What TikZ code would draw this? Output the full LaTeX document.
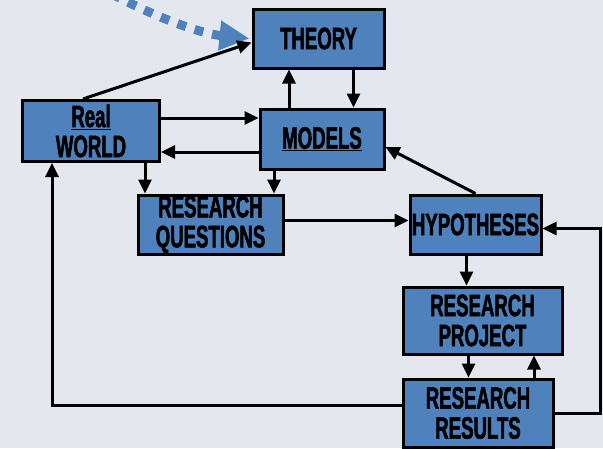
\documentclass[tikz,border=0pt]{standalone}
\usepackage{fontspec}
\newfontfamily\boxfont{Liberation Sans}[FakeStretch=0.6, BoldFeatures={FakeBold=1.6}]
\usetikzlibrary{arrows.meta, positioning}
\definecolor{boxblue}{RGB}{79,129,189}
\definecolor{backgray}{RGB}{228,232,238}
\tikzstyle{stepbox} = [rectangle, draw=black, line width=3pt, fill=boxblue, align=center, inner sep=0pt, font=\boxfont\bfseries\fontsize{31}{30}\selectfont]
\tikzstyle{arrow} = [line width=3pt, -{Triangle[length=14pt, width=13pt]}]
\tikzstyle{dotarrow} = [line width=9pt, boxblue, dash pattern=on 9pt off 9pt, -{Triangle[length=30pt, width=28pt]}]

\begin{document}
\begin{tikzpicture}[x=1pt, y=-1pt]

    \fill[backgray] (0,0) rectangle (603,448);
    \useasboundingbox (0,0) rectangle (603,448);

    \node (theory) [stepbox, minimum width=131pt, minimum height=59pt] at (318.5,38.5) {THEORY};
    \node (real) [stepbox, minimum width=137pt, minimum height=61pt] at (91,131) {\underline{Real}\\WORLD};
    \node (models) [stepbox, minimum width=124pt, minimum height=60pt] at (322,139) {\underline{MODELS}};
    \node (questions) [stepbox, minimum width=145pt, minimum height=59pt] at (210.5,224.5) {RESEARCH\\QUESTIONS};
    \node (hypo) [stepbox, minimum width=131pt, minimum height=59pt] at (475.5,224.5) {HYPOTHESES};
    \node (project) [stepbox, minimum width=159pt, minimum height=67pt] at (482.5,320.5) {RESEARCH\\PROJECT};
    \node (results) [stepbox, minimum width=150pt, minimum height=68pt] at (478,413) {RESEARCH\\RESULTS};

    \coordinate (dotstart) at (112,-6);
    \coordinate (loopright) at (600,0);

    \draw [dotarrow] (dotstart) .. controls (165,22) and (205,34) .. ([xshift=-2pt]theory.west);

    \draw [arrow] ([xshift=-8pt]real.north) -- ([yshift=-4pt]theory.west);
    \draw [arrow] ([yshift=13pt]real.east) -- ([yshift=13pt]real.east -| models.west);
    \draw [arrow] ([yshift=-13pt]models.west) -- ([yshift=-13pt]models.west -| real.east);
    \draw [arrow] ([xshift=-33pt]models.north) -- ([xshift=-33pt]models.north |- theory.south);
    \draw [arrow] ([xshift=35pt]theory.south) -- ([xshift=35pt]theory.south |- models.north);
    \draw [arrow] ([xshift=54pt]real.south) -- ([xshift=54pt]real.south |- questions.north);
    \draw [arrow] ([xshift=-48pt]models.south) -- ([xshift=-48pt]models.south |- questions.north);
    \draw [arrow] ([yshift=4pt]questions.east) -- ([yshift=4pt]questions.east -| hypo.west);
    \draw [arrow] (hypo.north) -- ([yshift=-8pt]models.east);
    \draw [arrow] ([xshift=-9pt]hypo.south) -- ([xshift=-9pt]hypo.south |- project.north);
    \draw [arrow] ([xshift=-14pt]project.south) -- ([xshift=-14pt]project.south |- results.north);
    \draw [arrow] ([xshift=56pt]results.north) -- ([xshift=56pt]results.north |- project.south);
    \draw [arrow] (results.east) -- (results.east -| loopright) |- ([yshift=-4pt]hypo.east);
    \draw [arrow] ([yshift=8pt]results.west) -| ([xshift=-39pt]real.south);

\end{tikzpicture}
\end{document}
